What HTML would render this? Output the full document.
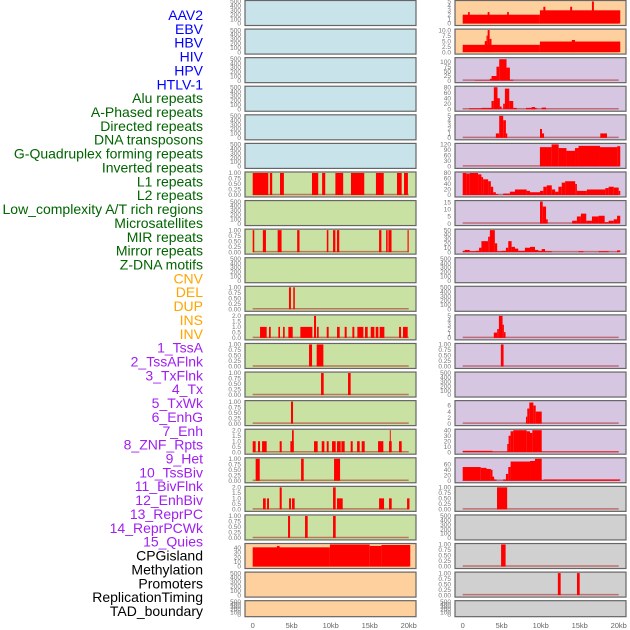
<!DOCTYPE html>
<html><head><meta charset="utf-8"><style>
html,body{margin:0;padding:0;background:#fff;width:630px;height:630px;overflow:hidden}
svg{display:block}
</style></head><body>
<svg id="chart" width="630" height="630" xmlns="http://www.w3.org/2000/svg"></svg>
<script>
// ---- labels ----
const trackLabels = ["AAV2","EBV","HBV","HIV","HPV","HTLV-1","Alu repeats","A-Phased repeats","Directed repeats","DNA transposons","G-Quadruplex forming repeats","Inverted repeats","L1 repeats","L2 repeats","Low_complexity A/T rich regions","Microsatellites","MIR repeats","Mirror repeats","Z-DNA motifs","CNV","DEL","DUP","INS","INV","1_TssA","2_TssAFlnk","3_TxFlnk","4_Tx","5_TxWk","6_EnhG","7_Enh","8_ZNF_Rpts","9_Het","10_TssBiv","11_BivFlnk","12_EnhBiv","13_ReprPC","14_ReprPCWk","15_Quies","CPGisland","Methylation","Promoters","ReplicationTiming","TAD_boundary"];
const labelColors = ["#0000ff","#0000ff","#0000ff","#0000ff","#0000ff","#0000ff","#006400","#006400","#006400","#006400","#006400","#006400","#006400","#006400","#006400","#006400","#006400","#006400","#006400","#ffa500","#ffa500","#ffa500","#ffa500","#ffa500","#a020f0","#a020f0","#a020f0","#a020f0","#a020f0","#a020f0","#a020f0","#a020f0","#a020f0","#a020f0","#a020f0","#a020f0","#a020f0","#a020f0","#a020f0","#000","#000","#000","#000","#000"];
const xTickValues = [0,5,10,15,20];
const xTickLabels = ["0","5kb","10kb","15kb","20kb"];

// ---- left column data: segments [startKb, endKb, value] ----
const L07 = [[0,2.0,1],[2.2,2.5,1],[3.5,4.0,1],[7.6,8.4,1],[8.9,9.3,1],[10.6,11.6,1],[12.6,14.3,1],[15.8,16.8,1],[18.5,19.1,1],[19.4,19.9,1]];
const L09 = [[0,0.2,1],[1.3,1.7,1],[3.2,3.7,1],[5.7,6.0,1],[9.5,9.7,1],[10.3,10.6,1],[10.8,11.1,1],[16.2,16.5,1],[17.1,17.3,1],[17.4,17.8,1],[19.85,20,1]];
const L11 = [[4.65,4.9,1],[5.2,5.4,1]];
const L12 = [[0.94,1.79,1],[2.09,2.31,1],[3.29,3.5,1],[3.89,4.1,1],[4.57,5.13,1],[6.11,7.65,1],[7.86,8.12,2],[8.25,8.46,1],[9.49,9.74,1],[10.81,11.15,1],[11.79,12.05,1],[12.78,13.03,1],[13.42,14.19,1],[14.4,14.74,1],[15.13,15.6,1],[15.77,16.11,1],[16.28,16.88,1],[18.76,19.02,1],[19.27,19.87,1]];
const L13 = [[7.22,7.61,1],[8.2,9.06,1]];
const L14 = [[8.76,9.1,1],[12.22,12.56,1]];
const L15 = [[4.91,5.17,1]];
const L16 = [[0,0.38,1],[0.68,0.94,1],[1.2,1.79,1],[3.46,3.72,1],[4.83,5.26,1],[5.04,5.26,2],[7.86,8.33,1],[8.85,9.19,1],[9.49,9.74,1],[10.17,10.64,1],[10.81,11.28,1],[11.37,11.79,1],[12.56,12.82,1],[13.38,13.72,1],[13.97,14.36,1],[16.07,16.75,1],[17.48,17.82,1],[17.58,17.7,2],[18.76,19.1,1]];
const L17 = [[0.38,0.9,1],[6.2,6.54,1],[10.43,11.2,1]];
const L18 = [[1.32,1.67,1],[1.84,2.09,1],[3.46,3.72,2],[4.66,4.91,1],[5.04,5.38,1],[10.3,10.64,2],[10.81,11.54,1],[16.2,16.84,1],[17.48,17.82,1],[19.79,20.1,1]];
const L19 = [[4.53,4.79,1],[6.71,7.05,1],[10.3,10.64,1]];
const L20 = [[0,9.9,41],[3.1,3.45,44],[9.9,15.0,47],[15.0,16.5,44],[16.5,20.2,46]];

// ---- right column data ----
const R01 = [[0,9.9,2],[9.9,20.2,3],[0.69,0.9,2.6],[3.2,3.43,2.6],[5.7,5.92,2.6],[10.34,10.6,3.8],[13.78,14.03,3.8],[16.57,16.82,5]];
const R02 = [[0,9.9,3.3],[9.9,20.2,4.8],[2.83,3.05,5],[3.05,3.2,7.5],[3.2,3.45,10],[3.45,3.69,6],[13.99,14.4,5.5]];
const R03 = [[1.55,3.48,2],[3.48,3.7,10],[3.7,4.33,25],[4.33,4.68,75],[4.68,5.62,115],[5.62,6.05,70],[6.05,6.48,5]];
const R04 = [[0.82,2.4,3],[2.4,3.69,5],[3.69,3.99,30],[3.99,4.46,80],[4.46,4.76,40],[4.76,4.98,10],[5.19,5.41,20],[5.41,5.97,75],[5.97,6.48,30],[6.48,6.91,5],[8.11,9.48,5],[8.84,9.27,8],[10.13,10.69,6]];
const R05 = [[4.25,4.68,1],[4.68,5.19,5],[5.19,5.54,4],[5.54,5.71,1],[9.91,10.17,2],[10.17,10.43,1],[17.64,18.5,1]];
const R06 = [[9.9,11.4,105],[11.4,12.3,120],[12.3,13.3,100],[13.3,14.4,85],[14.4,14.85,100],[14.85,17.6,112],[17.6,19.8,105],[19.8,20.2,110]];
const R07 = [[0,0.47,80],[0.47,0.9,78],[0.9,1.97,80],[1.97,2.4,75],[2.4,2.62,65],[2.62,3.26,57],[3.26,3.61,50],[3.61,3.91,30],[3.91,4.25,10],[4.25,4.55,3],[5.19,6.05,5],[6.05,6.7,12],[6.7,8.2,20],[8.2,8.63,15],[8.63,9.91,10],[9.91,10.34,15],[10.34,10.77,30],[10.77,11.42,35],[11.42,11.85,20],[11.85,12.27,12],[12.27,12.7,30],[12.7,13.13,45],[13.13,14.42,50],[14.42,14.64,40],[14.64,15.92,15],[15.92,18.28,20],[18.28,18.71,25],[18.71,19.36,30],[19.36,20.0,27],[20.0,20.2,15]];
const R08 = [[9.91,10.26,15.5],[10.26,10.69,12],[10.69,10.9,3],[14.03,14.64,2],[14.64,15.15,5],[15.15,15.84,7],[15.84,16.57,2],[16.57,17.42,5],[17.42,18.2,5.5],[18.2,18.71,1],[18.71,19.36,2],[19.36,19.79,3],[19.79,20.2,5.5]];
const R09 = [[0,0.26,3],[0.26,0.9,5],[0.9,1.67,2],[1.67,2.1,3],[2.1,2.4,10],[2.4,3.26,25],[3.26,3.48,35],[3.48,4.12,50],[4.12,4.42,20],[4.42,4.98,2],[4.98,5.54,3],[5.54,5.84,10],[5.84,6.27,25],[6.27,6.7,12],[6.7,7.12,8],[7.12,7.98,3],[7.98,8.63,10],[8.63,9.27,12],[9.27,9.7,5],[9.7,10.13,3],[10.13,10.56,7],[10.56,11.42,2],[14.85,15.49,2],[17.42,18.71,2],[19.79,20.2,4]];
const R12 = [[3.99,4.42,1.2],[4.42,4.64,2],[4.64,5.11,5],[5.11,5.28,3],[5.28,5.49,1.3]];
const R13 = [[4.89,5.24,1]];
const R15 = [[8.11,8.28,2.3],[8.28,8.54,5],[8.54,9.06,7],[9.06,9.36,6],[9.36,10.13,4]];
const R16 = [[0,3.82,2.5],[3.82,5.71,1],[5.71,5.88,15],[5.88,6.14,30],[6.14,6.48,38],[6.48,8.2,40],[8.2,8.63,38],[8.63,8.93,35],[8.93,10.13,40],[10.13,20,1]];
const R17 = [[0,2.32,50],[2.32,3.05,47],[3.05,3.61,43],[3.61,3.82,40],[3.82,4.03,15],[4.03,4.33,5],[5.19,5.54,5],[5.54,5.84,25],[5.84,6.14,50],[6.14,8.63,70],[8.63,9.27,72],[9.27,10.13,80],[10.13,10.43,3],[10.43,20.2,5]];
const R18 = [[4.4,5.7,1]];
const R20 = [[4.92,5.5,1]];
const R21 = [[12.2,12.56,1],[14.65,15.0,1]];

// ---- tick sets ----
const T500 = ["0","100","200","300","400","500"];
const T1 = ["0.00","0.25","0.50","0.75","1.00"];
const T2 = ["0.0","0.5","1.0","1.5","2.0"];

const BLUE="#c9e3eb",GREEN="#c9e1a3",ORANGE="#fed09e",PURPLE="#d6c6e2",GREY="#d0d0d0";
// [data, ymax, tickLabels, tickMax, bg]
const leftPanels = [
 [null,1,T500,500,BLUE],[null,1,T500,500,BLUE],[null,1,T500,500,BLUE],[null,1,T500,500,BLUE],[null,1,T500,500,BLUE],[null,1,T500,500,BLUE],
 [L07,1,T1,1,GREEN],[null,1,T500,500,GREEN],[L09,1,T1,1,GREEN],[null,1,T500,500,GREEN],[L11,1,T1,1,GREEN],[L12,2,T2,2,GREEN],
 [L13,1,T1,1,GREEN],[L14,1,T1,1,GREEN],[L15,1,T1,1,GREEN],[L16,2,T2,2,GREEN],[L17,1,T1,1,GREEN],[L18,2,T2,2,GREEN],[L19,1,T1,1,GREEN],
 [L20,47,["0","10","20","30","40"],40,ORANGE],[null,1,T500,500,ORANGE],[null,1,T500,500,ORANGE]
];
const rightPanels = [
 [R01,5,["0","1","2","3","4","5"],5,ORANGE],[R02,10,["0.0","2.5","5.0","7.5","10.0"],10,ORANGE],
 [R03,118,["0","25","50","75","100"],100,PURPLE],[R04,80,["0","20","40","60","80"],80,PURPLE],[R05,5,["0","1","2","3","4","5"],5,PURPLE],
 [R06,120,["0","30","60","90","120"],120,PURPLE],[R07,80,["0","20","40","60","80"],80,PURPLE],[R08,15.5,["0","5","10","15"],15,PURPLE],
 [R09,50,["0","10","20","30","40","50"],50,PURPLE],[null,1,T500,500,PURPLE],[null,1,T500,500,PURPLE],[R12,5,["0","1","2","3","4","5"],5,PURPLE],
 [R13,1,T1,1,PURPLE],[null,1,T500,500,PURPLE],[R15,7.3,["0","2","4","6"],6,PURPLE],[R16,40,["0","10","20","30","40"],40,PURPLE],
 [R17,80,["0","20","40","60"],60,PURPLE],[R18,1,T1,1,GREY],[null,1,T500,500,GREY],[R20,1,T1,1,GREY],[R21,1,T1,1,GREY],[null,1,T500,500,GREY]
];

const NS="http://www.w3.org/2000/svg";
const svg=document.getElementById('chart');
function mk(tag,attrs,parent){const e=document.createElementNS(NS,tag);for(const k in attrs)e.setAttribute(k,attrs[k]);(parent||svg).appendChild(e);return e;}

// labels
trackLabels.forEach((t,i)=>{
  const e=mk('text',{x:203,y:15+i*13.86+5,'text-anchor':'end','font-family':'Liberation Sans, sans-serif','font-size':'14',fill:labelColors[i]});
  e.textContent=t;
  
  
});

function panelTop(i){return i*28.58;}
function panelH(i){return i===21?16:25;}

function drawColumn(panels,left,colName){
  const W=171;
  const xs=kb=>left+7.7+kb*7.8;
  panels.forEach((p,i)=>{
    const [data,ymax,ticks,tmax,bg]=p;
    const top=panelTop(i),h=panelH(i);
    const g=mk('g',{});
    
    
    const ys=v=>top+1.5+(1-v/ymax)*(h-3);
    mk('rect',{x:left,y:top+0.5,width:W,height:h,fill:bg,stroke:'#666','stroke-width':1.2},g);
    // ticks
    const tickMaxY = data?ymax:tmax;
    ticks.forEach((t,k)=>{
      const v=k*tmax/(ticks.length-1);
      const y=data?ys(v):top+1.5+(1-v/tmax)*(h-3);
      const e=mk('text',{x:left-4,y:y+2.2,'text-anchor':'end','font-family':'Liberation Sans, sans-serif','font-size':'6.5',fill:'#777'},g);
      e.textContent=t;
      
      
    });
    if(data){
      mk('line',{x1:xs(0),x2:xs(20),y1:ys(0)-0.5,y2:ys(0)-0.5,stroke:'#b03030','stroke-opacity':0.6,'stroke-width':1.5},g);
      data.forEach(s=>{
        const x1=xs(Math.max(0,s[0])),x2=xs(s[1]);
        const r=mk('rect',{x:x1,y:ys(s[2]),width:Math.max(0.8,x2-x1),height:ys(0)-ys(s[2]),fill:'#ff0000'},g);
        
        
      });
    }
  });
  xTickValues.forEach((v,k)=>{
    const e=mk('text',{x:xs(v),y:628,'text-anchor':'middle','font-family':'Liberation Sans, sans-serif','font-size':'7.5',fill:'#666'});
    e.textContent=xTickLabels[k];
    
    
  });
}
drawColumn(leftPanels,245,'left');
drawColumn(rightPanels,455,'right');
</script>
</body></html>
